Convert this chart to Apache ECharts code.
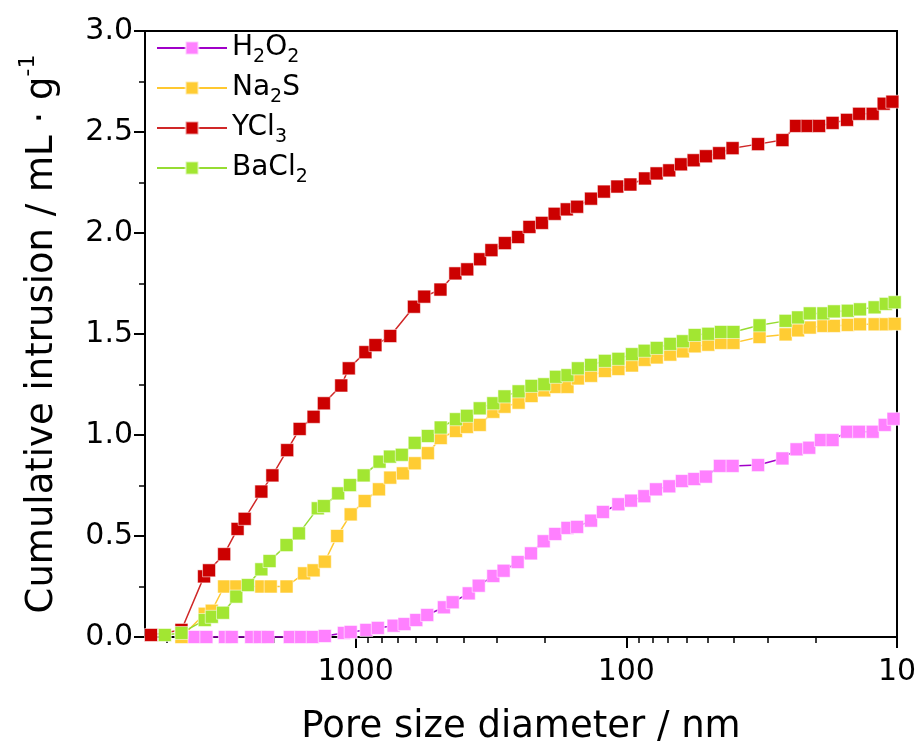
<!DOCTYPE html>
<html><head><meta charset="utf-8">
<script src="https://cdn.jsdelivr.net/npm/echarts@6/dist/echarts.min.js"></script>
<style>html,body{margin:0;padding:0;background:#fff}#c{width:920px;height:753px}</style>
</head><body><div id="c"></div>
<script>
// Pore size diameters (nm) and cumulative intrusion (mL/g)
const h2o2D = [3960,3560,3040,2870,2430,2260,2110,1750,1590,1440,1300,1105,1043,913,828,724,660,597,544,472,438,382,351,310,284,252,225,202,183,165,152,135,122,107,96.1,85.8,77.7,69.4,62.3,56.1,50.8,45.1,40.5,32.6,26.5,23.5,21.1,19.1,17.3,15.3,13.8,12.3,11.1,10.3];
const h2o2V = [0,0,0,0,0,0,0,0,0,0,0.005,0.02,0.025,0.035,0.045,0.056,0.064,0.084,0.109,0.147,0.172,0.216,0.254,0.302,0.328,0.371,0.414,0.474,0.51,0.54,0.545,0.576,0.619,0.657,0.675,0.697,0.731,0.746,0.772,0.782,0.794,0.847,0.847,0.851,0.884,0.929,0.937,0.975,0.975,1.016,1.016,1.016,1.05,1.08];

const na2sD = [4400,3610,3400,3060,2760,2230,2060,1800,1550,1430,1300,1170,1043,926,820,745,669,605,541,485,426,388,348,310,282,250,224,201,182,165,151,135,120,107,95.3,85.6,77.2,68.8,61.8,55.9,49.8,44.7,40.2,32.2,25.8,23.2,21.0,18.7,17.1,15.2,13.7,12.1,11.0,10.2];
const na2sV = [0.0,0.115,0.13,0.25,0.25,0.25,0.25,0.25,0.315,0.33,0.373,0.50,0.607,0.673,0.731,0.789,0.81,0.86,0.91,0.985,1.02,1.04,1.05,1.115,1.14,1.16,1.193,1.221,1.238,1.238,1.28,1.293,1.317,1.327,1.344,1.372,1.384,1.398,1.414,1.439,1.447,1.456,1.456,1.485,1.498,1.518,1.532,1.54,1.54,1.545,1.548,1.548,1.548,1.55];

const ycl3D = [5700,4400,3630,3480,3060,2730,2570,2230,2030,1790,1610,1430,1310,1130,1060,920,845,745,609,558,486,428,387,347,315,281,251,228,205,184,166,152,135,121,108,96.6,85.3,77.3,69.4,62.8,56.4,50.8,45.4,40.5,32.6,26.5,23.6,21.4,19.4,17.3,15.3,13.8,12.3,11.2,10.4];
const ycl3V = [0.01,0.035,0.30,0.33,0.41,0.535,0.585,0.72,0.80,0.925,1.03,1.09,1.157,1.245,1.33,1.41,1.445,1.49,1.635,1.685,1.72,1.80,1.82,1.87,1.915,1.95,1.98,2.03,2.05,2.095,2.117,2.13,2.17,2.205,2.23,2.24,2.27,2.295,2.31,2.34,2.36,2.38,2.395,2.42,2.44,2.46,2.53,2.53,2.53,2.545,2.56,2.59,2.59,2.64,2.65];

const bacl2D = [5070,4400,3610,3400,3090,2760,2500,2230,2080,1800,1620,1380,1310,1160,1050,934,816,747,675,605,541,485,426,388,348,310,282,250,224,201,182,165,151,135,120,107,95.3,85.6,77.2,68.8,61.8,55.9,49.8,44.7,40.2,32.2,25.8,23.2,21.0,18.7,17.1,15.2,13.7,12.1,11.0,10.2];
const bacl2V = [0.01,0.02,0.084,0.10,0.12,0.20,0.257,0.335,0.376,0.455,0.513,0.637,0.648,0.711,0.752,0.80,0.868,0.893,0.902,0.961,0.995,1.037,1.078,1.095,1.132,1.157,1.191,1.216,1.243,1.251,1.288,1.296,1.33,1.347,1.367,1.377,1.40,1.417,1.431,1.451,1.464,1.495,1.501,1.51,1.51,1.543,1.565,1.582,1.602,1.602,1.612,1.615,1.622,1.632,1.649,1.657];

const seriesNames = ['H2O2','Na2S','YCl3','BaCl2'];
const legendLabels = {
  'H2O2': '{n|H}{s|2}{n|O}{s|2}',
  'Na2S': '{n|Na}{s|2}{n|S}',
  'YCl3': '{n|YCl}{s|3}',
  'BaCl2': '{n|BaCl}{s|2}'
};
const xMajorTicks = [1000, 100, 10];
const xMinorTicks = [5000,4000,3000,2000,900,800,700,600,500,400,300,200,90,80,70,60,50,40,30,20];
const yTickLabels = ['0.0','0.5','1.0','1.5','2.0','2.5','3.0'];

function pairs(d, v) { return d.map((x, i) => [x, v[i]]); }

const FONT = '"DejaVu Sans", Arial, sans-serif';
const chart = echarts.init(document.getElementById('c'), null, {renderer: 'canvas'});

function mk(name, d, v, mColor, lColor) {
  return {
    name: name, type: 'line', data: pairs(d, v),
    symbol: 'rect', symbolSize: 13, showAllSymbol: true,
    lineStyle: {color: lColor, width: 1.5},
    itemStyle: {color: mColor, borderColor: 'rgba(255,255,255,0.55)', borderWidth: 1},
    emphasis: {disabled: true}, animation: false, z: 2
  };
}

chart.setOption({
  animation: false,
  backgroundColor: '#fff',
  grid: {left: 145, right: 23, top: 31, bottom: 116, show: true, borderColor: '#000', borderWidth: 2, backgroundColor: 'transparent'},
  legend: {
    orient: 'vertical', left: 151, top: 29,
    itemWidth: 70, itemHeight: 16, itemGap: 7,
    data: seriesNames,
    formatter: n => legendLabels[n],
    textStyle: {
      fontFamily: FONT, color: '#000',
      rich: {
        n: {fontSize: 28, fontFamily: FONT, color: '#000', lineHeight: 38, verticalAlign: 'middle'},
        s: {fontSize: 19, fontFamily: FONT, color: '#000', lineHeight: 38, verticalAlign: 'bottom'}
      }
    }
  },
  xAxis: [{
    type: 'log', inverse: true, min: 10, max: 6000, logBase: 10,
    name: 'Pore size diameter / nm', nameLocation: 'middle', nameGap: 72,
    nameTextStyle: {fontFamily: FONT, fontSize: 37, color: '#000'},
    axisLine: {show: true, lineStyle: {color: '#000', width: 2}},
    axisTick: {show: true, length: 11, lineStyle: {color: '#000', width: 2}, customValues: xMajorTicks},
    axisLabel: {fontFamily: FONT, fontSize: 30, color: '#000', margin: 20, customValues: xMajorTicks, formatter: v => String(Math.round(v))},
    splitLine: {show: false}, minorTick: {show: false}
  }, {
    type: 'log', inverse: true, min: 10, max: 6000, logBase: 10, position: 'bottom',
    axisLine: {show: false},
    axisTick: {show: true, length: 6, lineStyle: {color: '#000', width: 1.5}, customValues: xMinorTicks},
    axisLabel: {show: false}, splitLine: {show: false}
  }],
  yAxis: {
    type: 'value', min: 0, max: 3, interval: 0.5,
    name: '{a|Cumulative intrusion / mL · g}{b|-1}', nameLocation: 'middle', nameGap: 84, nameRotate: 90,
    nameTextStyle: {
      fontFamily: FONT, color: '#000',
      rich: {
        a: {fontSize: 37, fontFamily: FONT, color: '#000', lineHeight: 44, verticalAlign: 'bottom'},
        b: {fontSize: 22, fontFamily: FONT, color: '#000', lineHeight: 44, verticalAlign: 'top'}
      }
    },
    axisLine: {show: true, lineStyle: {color: '#000', width: 2}},
    axisTick: {show: true, length: 11, lineStyle: {color: '#000', width: 2}},
    minorTick: {show: true, splitNumber: 2, length: 6, lineStyle: {color: '#000', width: 1.5}},
    axisLabel: {fontFamily: FONT, fontSize: 30, color: '#000', margin: 12, formatter: (v) => yTickLabels[Math.round(v * 2)]},
    splitLine: {show: false}
  },
  series: [
    mk('H2O2', h2o2D, h2o2V, '#ff80ff', '#a000c8'),
    mk('Na2S', na2sD, na2sV, '#ffcc33', '#ffc830'),
    mk('YCl3', ycl3D, ycl3V, '#cc0000', '#d02828'),
    mk('BaCl2', bacl2D, bacl2V, '#a2e632', '#96dc32')
  ]
});
</script>
</body></html>
